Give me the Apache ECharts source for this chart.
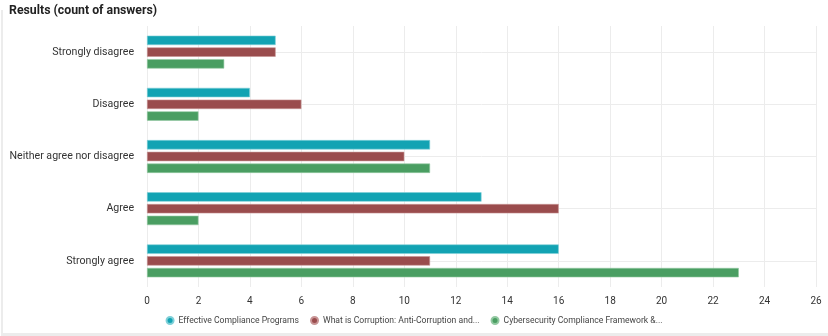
<!DOCTYPE html>
<html>
<head>
<meta charset="utf-8">
<script src="https://cdn.jsdelivr.net/npm/echarts@6/dist/echarts.min.js"></script>
<style>
  html, body { margin: 0; padding: 0; background: #ffffff; }
  #frame { position: absolute; left: 0; top: 0; width: 828px; height: 336px; }
  #edge { position: absolute; left: 1px; top: 10px; width: 2px; height: 326px; background: #ececec; }
  #base { position: absolute; left: 1px; top: 333px; width: 827px; height: 3px; background: #ececec; }
  #chart { position: absolute; left: 0; top: 0; width: 828px; height: 333px; }
</style>
</head>
<body>
<div id="frame">
  <div id="edge"></div>
  <div id="base"></div>
  <div id="chart"></div>
</div>
<script>
// Answer categories, top to bottom
const categories = ['Strongly disagree', 'Disagree', 'Neither agree nor disagree', 'Agree', 'Strongly agree'];

// Course names as shown in the legend
const seriesNames = [
  'Effective Compliance Programs',
  'What is Corruption: Anti-Corruption and...',
  'Cybersecurity Compliance Framework &...'
];

// Count of answers per category
const effectiveCompliance = [5, 4, 11, 13, 16];
const whatIsCorruption = [5, 6, 10, 16, 11];
const cybersecurityFramework = [3, 2, 11, 2, 23];

// Value axis range
const axisMax = 26;
const axisStep = 2;

const palette = ['#12a3b3', '#9a4c4d', '#4a9e62'];
const edges = ['#7fd0d8', '#c99596', '#93c9a2'];

const seriesData = [effectiveCompliance, whatIsCorruption, cybersecurityFramework];

const chart = echarts.init(document.getElementById('chart'), null, { renderer: 'canvas' });

chart.setOption({
  animation: false,
  textStyle: { fontFamily: 'Roboto' },
  title: {
    text: 'Results (count of answers)',
    left: 4,
    top: 0,
    textStyle: { fontFamily: 'Roboto', fontSize: 12.3, fontWeight: 'bold', color: '#222' }
  },
  legend: {
    bottom: 3,
    left: 'center',
    icon: 'circle',
    itemWidth: 7,
    itemHeight: 7,
    itemGap: 11,
    textStyle: { fontFamily: 'Roboto', fontSize: 8.6, color: '#444' },
    data: seriesNames
  },
  grid: { left: 147, right: 12, top: 26, bottom: 46, containLabel: false },
  xAxis: {
    type: 'value',
    min: 0,
    max: axisMax,
    interval: axisStep,
    axisLine: { show: false },
    axisTick: { show: false },
    axisLabel: { fontFamily: 'Roboto', fontSize: 10, color: '#333', margin: 9 },
    splitLine: { show: true, lineStyle: { color: '#ececec', width: 1 } }
  },
  yAxis: {
    type: 'category',
    inverse: true,
    data: categories,
    axisLine: { show: false },
    axisTick: { show: false },
    axisLabel: { fontFamily: 'Roboto', fontSize: 10.6, color: '#333', margin: 13 },
    splitLine: { show: true, alignWithLabel: true, lineStyle: { color: '#ececec', width: 1 } }
  },
  series: seriesNames.map((name, i) => ({
    name: name,
    type: 'bar',
    data: seriesData[i],
    barGap: '25%',
    barCategoryGap: '37%',
    itemStyle: { color: palette[i], borderColor: edges[i], borderWidth: 0.6 }
  }))
});
</script>
</body>
</html>
